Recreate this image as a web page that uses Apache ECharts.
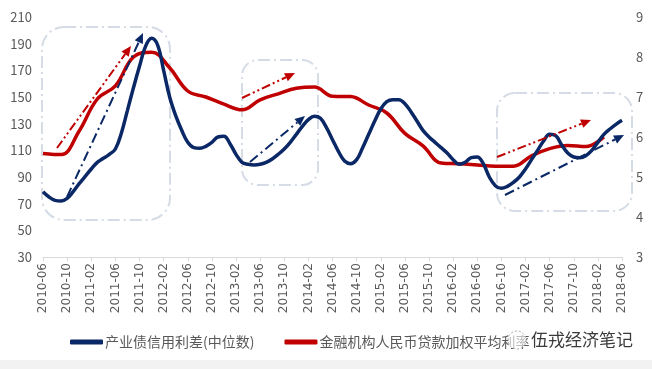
<!DOCTYPE html>
<html><head><meta charset="utf-8">
<script src="https://cdn.jsdelivr.net/npm/echarts@6/dist/echarts.min.js"></script>
<style>html,body{margin:0;padding:0;background:#fff}#c{width:652px;height:369px}</style>
</head><body><div id="c"></div>
<script>
// monthly categories 2010-06 .. 2018-06
const months = [];
for (let y = 2010, m = 6; y < 2018 || (y === 2018 && m <= 6); ) {
  months.push(y + '-' + (m < 10 ? '0' + m : m));
  m++; if (m > 12) { m = 1; y++; }
}
const leftTicks = [30, 210, 20];   // min, max, interval
const rightTicks = [3, 9, 1];

// 产业债信用利差(中位数), monthly, bp
const spread = [79,75,72.5,72,74,79,85,90.5,96,101,104,107,111,123,140,157,173,188,194,189,170,150,136,125,116,112,111.5,113,116,120,120.5,115,107,101,99.5,99,99.5,101,103.5,107,111,116,122,128,133,135.5,134,127,118,109,102,100,103,112,122,132,141,146.5,148,148,145,139,132,125,120,116,112,108,103,99.5,101,104.5,105,100,90,83.5,81.5,83,86,90,96,103,110,117,122,121,114,108,105,104.5,106,110,116,122,126,129.5,132.5];

// 金融机构人民币贷款加权平均利率, quarterly, %
const rateDates = ['2010-06','2010-09','2010-12','2011-03','2011-06','2011-09','2011-12','2012-03','2012-06','2012-09','2012-12','2013-03','2013-06','2013-09','2013-12','2014-03','2014-06','2014-09','2014-12','2015-03','2015-06','2015-09','2015-12','2016-03','2016-06','2016-09','2016-12','2017-03','2017-06','2017-09','2017-12','2018-03'];
const rateVals = [5.59,5.56,6.15,6.95,7.28,8.0,8.12,7.73,7.15,7.0,6.82,6.68,6.93,7.08,7.22,7.25,7.02,7.01,6.8,6.6,6.09,5.78,5.35,5.33,5.30,5.27,5.27,5.53,5.71,5.79,5.76,6.0];

const seriesNames = ['产业债信用利差(中位数)', '金融机构人民币贷款加权平均利率'];
const BLUE = '#0b2866', RED = '#c00000', GREY = '#595959';
const FONT = '"Microsoft YaHei","Noto Sans CJK SC",sans-serif';

const chart = echarts.init(document.getElementById('c'));

function arrow(x1, y1, x2, y2, color, dash) {
  const a = Math.atan2(y2 - y1, x2 - x1), L = 10, W = 4.5;
  const bx = x2 - L * Math.cos(a), by = y2 - L * Math.sin(a);
  return [
    { type: 'line', z: 5, shape: { x1, y1, x2: bx, y2: by }, style: { stroke: color, lineWidth: 2, lineDash: dash } },
    { type: 'polygon', z: 5, shape: { points: [[x2, y2], [bx + W * Math.sin(a), by - W * Math.cos(a)], [bx - W * Math.sin(a), by + W * Math.cos(a)]] }, style: { fill: color } }
  ];
}
function box(x, y, w, h, r) {
  return { type: 'rect', z: 1, shape: { x, y, width: w, height: h, r }, style: { fill: 'none', stroke: '#d5dce6', lineWidth: 2, lineDash: [12, 4, 2, 4] } };
}
const redDash = [9, 3, 2, 3, 2, 3], blueDash = [10, 4, 2, 4];
const graphics = [
  { type: 'rect', z: 0, shape: { x: 0, y: 360, width: 652, height: 9 }, style: { fill: '#f2f2f2' } },
  box(42, 27, 128, 193, 22),
  box(242, 60, 76, 125, 16),
  box(497, 93, 135, 118, 18),
  ...arrow(57, 148, 131, 46, RED, redDash),
  ...arrow(242, 98, 295, 73, RED, redDash),
  ...arrow(497, 157, 591, 120, RED, redDash),
  ...arrow(67, 197, 143, 33, BLUE, blueDash),
  ...arrow(250, 162, 305, 116, BLUE, blueDash),
  ...arrow(505, 195, 624, 135, BLUE, blueDash),
  { type: 'circle', z: 20, shape: { cx: 517, cy: 340, r: 9 }, style: { fill: 'rgba(255,255,255,0.6)', stroke: '#aaa', lineWidth: 1, lineDash: [2, 2] } },
  { type: 'text', z: 20, left: 530, top: 330, style: { text: '伍戎经济笔记', fill: '#3a3a3a', font: '17px ' + FONT, stroke: '#fff', lineWidth: 2 } }
];

chart.setOption({
  animation: false,
  textStyle: { fontFamily: FONT },
  grid: { left: 43, right: 30, top: 17, bottom: 112 },
  legend: {
    data: seriesNames, left: 65, top: 330, itemWidth: 33, itemHeight: 5, itemGap: 30,
    icon: 'roundRect', textStyle: { color: GREY, fontSize: 14, fontFamily: FONT, padding: [0, 0, 0, -3] }
  },
  xAxis: {
    type: 'category', data: months, boundaryGap: false,
    axisLine: { lineStyle: { color: '#d9d9d9' } },
    axisTick: { interval: 3, length: 4, lineStyle: { color: '#d9d9d9' } },
    axisLabel: { interval: 3, rotate: 90, margin: 6, color: GREY, fontSize: 12, fontFamily: '"DejaVu Sans",sans-serif' },
    splitLine: { show: false }
  },
  yAxis: [
    { type: 'value', min: leftTicks[0], max: leftTicks[1], interval: leftTicks[2],
      axisLine: { show: false }, axisTick: { show: false }, splitLine: { show: false },
      axisLabel: { color: GREY, fontSize: 13, margin: 11 } },
    { type: 'value', min: rightTicks[0], max: rightTicks[1], interval: rightTicks[2],
      axisLine: { show: false }, axisTick: { show: false }, splitLine: { show: false },
      axisLabel: { color: GREY, fontSize: 13, margin: 14 } }
  ],
  series: [
    { name: seriesNames[0], type: 'line', yAxisIndex: 0, data: spread, smooth: 0.4, showSymbol: false, z: 4,
      lineStyle: { color: BLUE, width: 3.5 }, itemStyle: { color: BLUE } },
    { name: seriesNames[1], type: 'line', yAxisIndex: 1, data: rateDates.map((d, i) => [d, rateVals[i]]), smooth: 0.4, showSymbol: false, z: 3,
      lineStyle: { color: RED, width: 3.5 }, itemStyle: { color: RED } }
  ],
  graphic: graphics
});
</script></body></html>
